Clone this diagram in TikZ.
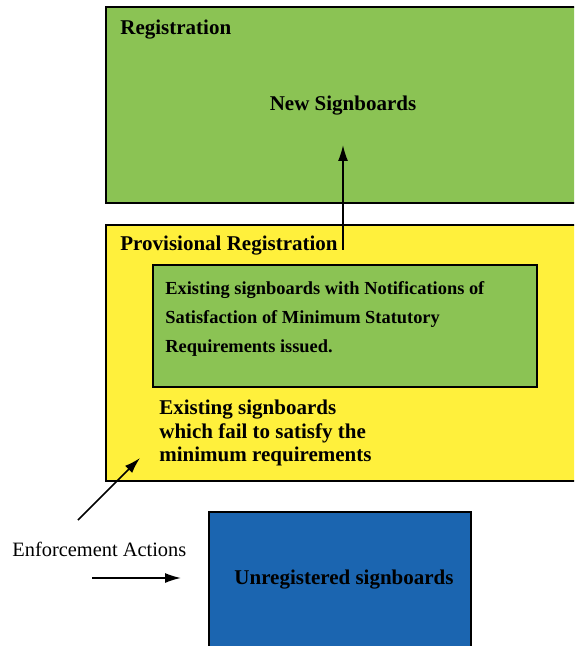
\documentclass[tikz,border=0pt]{standalone}
\usepackage{fontspec}
\setmainfont{Liberation Serif}
\usetikzlibrary{positioning,arrows.meta}
\definecolor{regGreen}{RGB}{139,195,84}
\definecolor{provYellow}{RGB}{255,240,60}
\definecolor{unregBlue}{RGB}{27,101,176}

\begin{document}
\begin{tikzpicture}[x=0.5pt,y=-0.5pt]
    %styles
    \tikzstyle{zone}=[draw,line width=0.9pt]
    \tikzstyle{lbl}=[inner sep=0pt,anchor=west,align=left,font=\fontsize{10.5}{11.8}\selectfont\bfseries]
    \tikzstyle{note}=[inner sep=0pt,anchor=west,align=left,font=\fontsize{9.2}{14.7}\selectfont\bfseries]
    \tikzstyle{flow}=[-{Latex[length=8pt,width=5pt]},line width=0.8pt]
    \useasboundingbox (0,0) rectangle (574,646);
    \clip (0,0) rectangle (574,646);
    %boxes
    \draw[zone,fill=regGreen] (106,7) rectangle (590,203);
    \draw[zone,fill=provYellow] (106,225) rectangle (590,481);
    \draw[zone,fill=regGreen] (153,265) rectangle (537,387);
    \draw[zone,fill=unregBlue] (209,512) rectangle (471,660);
    %labels
    \node[lbl] (reg) at (120,30) {Registration};
    \node[lbl,anchor=center] (newsb) at (343,106) {New Signboards};
    \node[lbl] (prov) at (120,246) {Provisional Registration};
    \node[note] (notif) at (165,319) {Existing signboards with Notifications of\\Satisfaction of Minimum Statutory\\Requirements issued.};
    \node[lbl] (fail) at (159,433) {Existing signboards\\which fail to satisfy the\\minimum requirements};
    \node[lbl,font=\fontsize{10.2}{11.8}\selectfont] (enf) at (12,549) {Enforcement Actions};
    \node[lbl,anchor=center] (unreg) at (344,580) {Unregistered signboards};
    %arrow ends
    \coordinate (upA) at (343,250);
    \coordinate (upB) at (343,145);
    \coordinate (diagA) at (78,520);
    \coordinate (diagB) at (140,458);
    \coordinate (horA) at (92,578);
    \coordinate (horB) at (181,578);
    %arrows
    \draw[flow] (upA)--(upB);
    \draw[flow] (diagA)--(diagB);
    \draw[flow] (horA)--(horB);
\end{tikzpicture}
\end{document}
